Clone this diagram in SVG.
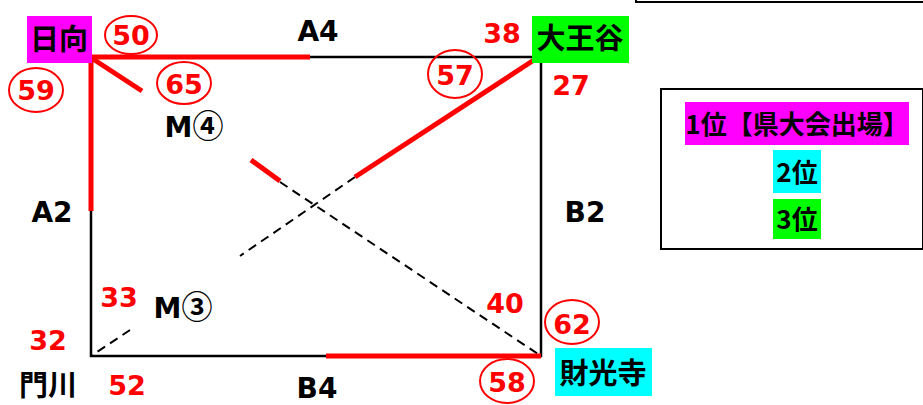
<svg xmlns="http://www.w3.org/2000/svg" width="923" height="405" viewBox="0 0 923 405">
<style>
text{font-family:"Noto Sans CJK JP","Noto Sans",sans-serif;font-weight:bold;text-anchor:middle}
.k{fill:#000;font-size:28px;font-family:"DejaVu Sans","Noto Sans CJK JP",sans-serif}
.r{fill:#f00;font-size:27px;font-family:"DejaVu Sans","Noto Sans CJK JP",sans-serif}
.j{fill:#000;font-size:29px}
.cd{font-family:"Noto Sans CJK JP",sans-serif;font-size:31px;font-weight:bold}
.lg{font-size:26px}
.c{fill:none;stroke:#f00;stroke-width:2}
.edge{stroke:#000;stroke-width:2.5;fill:none}
.red{stroke:#f00;stroke-width:5;fill:none}
.dash{stroke:#000;stroke-width:2;stroke-dasharray:9 6;fill:none}
</style>
<rect width="923" height="405" fill="#fff"/>
<rect x="636" y="-10" width="300" height="12" fill="none" stroke="#000" stroke-width="2"/>
<g id="connectors">
<path class="edge" d="M91 57H541V356H91Z"/>
<path class="dash" d="M280 182L541 356"/>
<path class="dash" d="M355 177L240 256"/>
<path class="dash" d="M130 330L91 356"/>
<path class="red" d="M91 57H310"/>
<path class="red" d="M91 57V211"/>
<path class="red" d="M93 59L142 91"/>
<path class="red" d="M251 160L280 181"/>
<path class="red" d="M537 58L355 177"/>
<path class="red" d="M326 356H541"/>
</g>
<g id="hyuga"><rect x="27" y="16" width="65" height="47" fill="#f0f"/><text class="j" x="59" y="50">日向</text></g>
<g id="daiouya"><rect x="532" y="16" width="97" height="47" fill="#0f0"/><text class="j" x="580" y="49">大王谷</text></g>
<g id="zaikouji"><rect x="555" y="348" width="97" height="48" fill="#0ff"/><text class="j" x="603" y="384">財光寺</text></g>
<g id="kadogawa"><text class="j" x="48" y="396">門川</text></g>
<g id="labels">
<text class="k" x="318" y="41">A4</text>
<text class="k" x="52" y="222">A2</text>
<text class="k" x="585" y="222">B2</text>
<text class="k" x="317" y="398">B4</text>
<text class="k" x="194" y="137">M<tspan class="cd">④</tspan></text>
<text class="k" x="183" y="318">M<tspan class="cd">③</tspan></text>
<text class="r" x="502" y="43">38</text>
<text class="r" x="571" y="95">27</text>
<text class="r" x="119" y="307">33</text>
<text class="r" x="48" y="350">32</text>
<text class="r" x="127" y="395">52</text>
<text class="r" x="505" y="313">40</text>
</g>
<g id="circled">
<ellipse class="c" cx="131" cy="35" rx="26" ry="19"/><text class="r" x="131" y="45">50</text>
<ellipse class="c" cx="36" cy="90" rx="27" ry="22"/><text class="r" x="36" y="100">59</text>
<ellipse class="c" cx="184" cy="83" rx="27" ry="21"/><text class="r" x="184" y="94">65</text>
<ellipse class="c" cx="455" cy="74" rx="27" ry="24"/><text class="r" x="455" y="85">57</text>
<ellipse class="c" cx="572" cy="322" rx="27" ry="22"/><text class="r" x="572" y="334">62</text>
<ellipse class="c" cx="507" cy="381" rx="27" ry="22"/><text class="r" x="507" y="392">58</text>
</g>
<g id="legend">
<rect x="661" y="89" width="262" height="160" fill="none" stroke="#000" stroke-width="2"/>
<rect x="685" y="102" width="224" height="43" fill="#f0f"/><text class="j lg" x="797" y="134">1位【県大会出場】</text>
<rect x="773" y="150" width="48" height="43" fill="#0ff"/><text class="j lg" x="797" y="182">2位</text>
<rect x="773" y="199" width="48" height="40" fill="#0f0"/><text class="j lg" x="797" y="229">3位</text>
</g>
</svg>
